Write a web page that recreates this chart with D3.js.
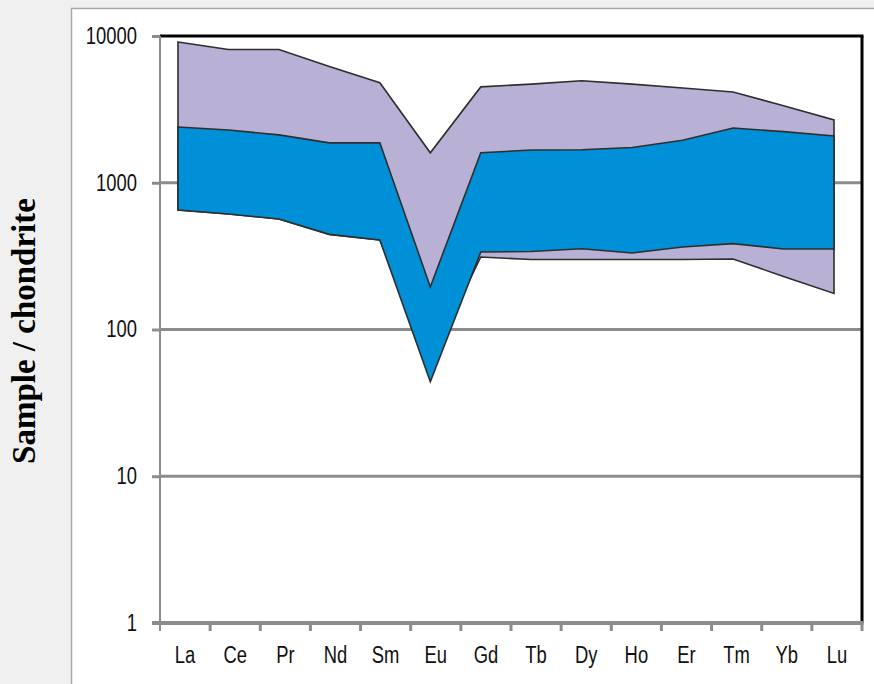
<!DOCTYPE html>
<html>
<head>
<meta charset="utf-8">
<script src="https://cdn.jsdelivr.net/npm/d3@7"></script>
<style>
  body { margin: 0; background: #f0f0f0; }
  svg { display: block; }
</style>
</head>
<body>
<div id="chart"></div>
<script>
// REE elements along the x axis
var elements = ["La", "Ce", "Pr", "Nd", "Sm", "Eu", "Gd", "Tb", "Dy", "Ho", "Er", "Tm", "Yb", "Lu"];

// outer envelope (purple)
var rangeMax = [9100, 8100, 8100, 6200, 4800, 1600, 4500, 4700, 4950, 4700, 4420, 4150, 3350, 2680];
var rangeMin = [652, 612, 566, 445, 407, 60, 312, 300, 300, 300, 300, 302, 230, 176];

// inner envelope (blue)
var coreMax = [2400, 2290, 2120, 1870, 1870, 195, 1600, 1670, 1680, 1740, 1950, 2360, 2230, 2080];
var coreMin = [652, 612, 566, 445, 407, 44, 337, 340, 355, 332, 365, 385, 354, 354];

var yTicks = [1, 10, 100, 1000, 10000];

var W = 874, H = 684;
var margin = {top: 36, right: 12, bottom: 61, left: 160},
    width = W - margin.left - margin.right,
    height = H - margin.top - margin.bottom;

var svg = d3.select("#chart").append("svg")
    .attr("width", W)
    .attr("height", H);

// white chart panel
svg.append("rect")
    .attr("x", 71.5).attr("y", 8.5)
    .attr("width", W).attr("height", H)
    .attr("fill", "#fff")
    .attr("stroke", "#a8a8a8")
    .attr("stroke-width", 1.5);

var g = svg.append("g")
    .attr("transform", "translate(" + margin.left + "," + margin.top + ")");

// scales
var x = d3.scaleBand().domain(elements).range([0, width]);
var xPt = d3.scalePoint().domain(elements).range([18, 674]);
var y = d3.scaleLog().domain([1, 10000]).range([height, 0]);

// gridlines
g.selectAll(".grid")
    .data(yTicks.filter(function(d) { return d > 1 && d < 10000; }))
  .enter().append("line")
    .attr("x1", 0).attr("x2", width)
    .attr("y1", function(d) { return y(d); })
    .attr("y2", function(d) { return y(d); })
    .attr("stroke", "#8c8c8c")
    .attr("stroke-width", 3);

var idx = d3.range(elements.length);

var outerArea = d3.area()
    .x(function(i) { return xPt(elements[i]); })
    .y0(function(i) { return y(rangeMin[i]); })
    .y1(function(i) { return y(rangeMax[i]); });

var innerArea = d3.area()
    .x(function(i) { return xPt(elements[i]); })
    .y0(function(i) { return y(coreMin[i]); })
    .y1(function(i) { return y(coreMax[i]); });

g.append("path")
    .datum(idx)
    .attr("d", outerArea)
    .attr("fill", "#b9b1d5")
    .attr("stroke", "#2e2e2e")
    .attr("stroke-width", 1.6);

g.append("path")
    .datum(idx)
    .attr("d", innerArea)
    .attr("fill", "#0090d8")
    .attr("stroke", "#2e2e2e")
    .attr("stroke-width", 1.6);

// top and right border
g.append("line")
    .attr("x1", 0).attr("x2", width + 1.5)
    .attr("y1", 0).attr("y2", 0)
    .attr("stroke", "#000").attr("stroke-width", 3);
g.append("line")
    .attr("x1", width).attr("x2", width)
    .attr("y1", 0).attr("y2", height)
    .attr("stroke", "#000").attr("stroke-width", 3);

// squeeze the labels a bit, the original font is narrow
function narrow(sel) {
  sel.each(function() {
    var w = this.getComputedTextLength();
    d3.select(this)
      .attr("textLength", w * 0.8)
      .attr("lengthAdjust", "spacingAndGlyphs");
  });
}

// Y axis
var yAxis = g.append("g")
    .call(d3.axisLeft(y).tickValues(yTicks).tickFormat(d3.format("d")).tickSize(8).tickSizeOuter(0));
yAxis.select(".domain").remove();
yAxis.append("line")
    .attr("x1", 0).attr("x2", 0)
    .attr("y1", 0).attr("y2", height + 8)
    .attr("stroke", "#8c8c8c").attr("stroke-width", 2);
yAxis.selectAll(".tick line").attr("stroke", "#8c8c8c").attr("stroke-width", 3);
yAxis.selectAll(".tick text")
    .attr("x", -23)
    .attr("fill", "#111")
    .style("font-family", "'Liberation Sans', Arial, sans-serif")
    .style("font-size", "23px")
    .call(narrow);

// X axis
var xAxis = g.append("g")
    .attr("transform", "translate(0," + height + ")")
    .call(d3.axisBottom(x).tickSize(0).tickPadding(24));
xAxis.select(".domain").remove();
xAxis.append("line")
    .attr("x1", -8).attr("x2", width + 1.5)
    .attr("y1", 0).attr("y2", 0)
    .attr("stroke", "#8c8c8c").attr("stroke-width", 4);
xAxis.selectAll(".bound")
    .data(d3.range(1, elements.length + 1))
  .enter().append("line")
    .attr("x1", function(i) { return i * x.step(); })
    .attr("x2", function(i) { return i * x.step(); })
    .attr("y1", 0).attr("y2", 8)
    .attr("stroke", "#8c8c8c").attr("stroke-width", 3);
xAxis.selectAll(".tick text")
    .attr("fill", "#111")
    .style("font-family", "'Liberation Sans', Arial, sans-serif")
    .style("font-size", "23px")
    .call(narrow);

// y axis title
svg.append("text")
    .attr("transform", "translate(35,331) rotate(-90)")
    .style("text-anchor", "middle")
    .style("font-family", "'Liberation Serif', 'Times New Roman', serif")
    .style("font-weight", "bold")
    .style("font-size", "33px")
    .text("Sample / chondrite");
</script>
</body>
</html>
